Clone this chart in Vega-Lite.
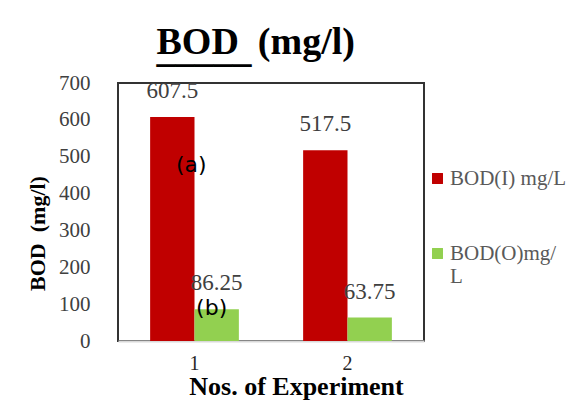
{
  "$schema": "https://vega.github.io/schema/vega-lite/v6.json",
  "width": 306,
  "height": 258,
  "autosize": {"type": "none"},
  "padding": {"left": 118, "top": 83, "right": 154, "bottom": 65},
  "background": "white",
  "title": {
    "text": "BOD\u00a0 (mg/l)",
    "subtitle": "_____",
    "font": "Liberation Serif",
    "fontSize": 38,
    "fontWeight": "bold",
    "color": "#000000",
    "subtitleFont": "Liberation Serif",
    "subtitleFontSize": 38,
    "subtitleFontWeight": "bold",
    "subtitleColor": "#000000",
    "subtitlePadding": -30,
    "anchor": "start",
    "align": "left",
    "dx": 130,
    "offset": 2
  },
  "datasets": {
    "bod": [
      {"exp": "1", "series": "BOD(I) mg/L", "value": 607.5},
      {"exp": "1", "series": "BOD(O)mg/L", "value": 86.25},
      {"exp": "2", "series": "BOD(I) mg/L", "value": 517.5},
      {"exp": "2", "series": "BOD(O)mg/L", "value": 63.75}
    ],
    "notes": [
      {"exp": "1", "series": "BOD(I) mg/L", "pos": 477.5, "note": "(a)"},
      {"exp": "1", "series": "BOD(O)mg/L", "pos": 89.5, "note": "(b)"}
    ]
  },
  "encoding": {
    "x": {
      "field": "exp",
      "type": "nominal",
      "scale": {"paddingInner": 0.42, "paddingOuter": 0.21},
      "axis": {
        "title": "Nos. of Experiment",
        "labelAngle": 0,
        "labelFont": "Liberation Serif",
        "labelFontSize": 20,
        "labelColor": "#262626",
        "labelPadding": 12,
        "ticks": false,
        "domainColor": "#d9d9d9",
        "domainWidth": 2,
        "titleFont": "Liberation Serif",
        "titleFontSize": 26,
        "titleFontWeight": "bold",
        "titleColor": "#000000",
        "titlePadding": 0,
        "titleX": 178
      }
    },
    "xOffset": {"field": "series", "type": "nominal", "scale": {"paddingInner": 0, "paddingOuter": 0}},
    "y": {
      "field": "value",
      "type": "quantitative",
      "scale": {"domain": [0, 700], "nice": false},
      "axis": {
        "title": "BOD\u00a0 (mg/l)",
        "values": [0, 100, 200, 300, 400, 500, 600, 700],
        "labelOverlap": false,
        "grid": false,
        "ticks": false,
        "domain": false,
        "labelFont": "Liberation Serif",
        "labelFontSize": 21,
        "labelColor": "#404040",
        "labelPadding": 28,
        "titleFont": "Liberation Serif",
        "titleFontSize": 22,
        "titleFontWeight": "bold",
        "titleColor": "#000000",
        "titlePadding": 9,
        "titleY": 150
      }
    }
  },
  "layer": [
    {
      "data": {"name": "bod"},
      "mark": {"type": "bar"},
      "encoding": {
        "color": {
          "field": "series",
          "type": "nominal",
          "scale": {"domain": ["BOD(I) mg/L", "BOD(O)mg/L"], "range": ["#C00000", "#92D050"]},
          "legend": {
            "title": null,
            "orient": "none",
            "legendX": 309,
            "legendY": 85,
            "symbolType": "square",
            "symbolSize": 120,
            "symbolStrokeWidth": 0,
            "labelFont": "Liberation Serif",
            "labelFontSize": 21,
            "labelColor": "#595959",
            "labelOffset": 2,
            "labelLimit": 200,
            "rowPadding": 53,
            "labelExpr": "datum.label == 'BOD(O)mg/L' ? ['BOD(O)mg/', 'L'] : datum.label"
          }
        }
      }
    },
    {
      "data": {"name": "bod"},
      "mark": {"type": "text", "dy": -26, "font": "Liberation Serif", "fontSize": 23, "color": "#404040", "baseline": "middle"},
      "encoding": {
        "text": {"field": "value", "type": "quantitative", "format": ".2~f"}
      }
    },
    {
      "data": {"name": "notes"},
      "transform": [{"filter": "datum.note == '(a)'"}],
      "mark": {"type": "text", "dx": 19, "font": "DejaVu Sans", "fontSize": 22, "color": "#000000", "baseline": "middle"},
      "encoding": {
        "y": {"field": "pos", "type": "quantitative"},
        "text": {"field": "note"}
      }
    },
    {
      "data": {"name": "notes"},
      "transform": [{"filter": "datum.note == '(b)'"}],
      "mark": {"type": "text", "dx": -5, "font": "DejaVu Sans", "fontSize": 22, "color": "#000000", "baseline": "middle"},
      "encoding": {
        "y": {"field": "pos", "type": "quantitative"},
        "text": {"field": "note"}
      }
    }
  ],
  "config": {
    "view": {"stroke": "#333333", "strokeWidth": 2},
    "axisY": {"labelOverlap": false}
  }
}
